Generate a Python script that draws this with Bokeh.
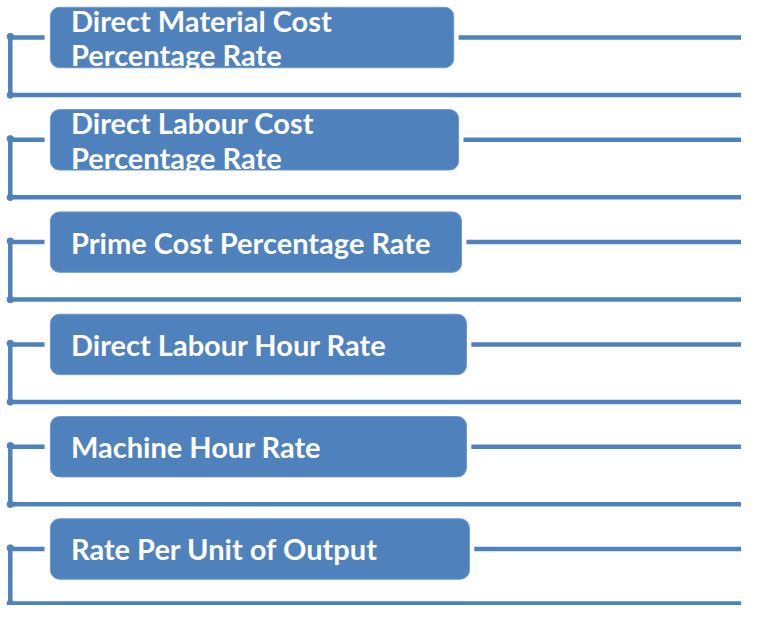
from bokeh.plotting import figure
from bokeh.embed import file_html
from bokeh.resources import INLINE
from bokeh.core.properties import value
from bokeh.models import Range1d

# Data
labels = [
    ["Direct Material Cost", "Percentage Rate"],
    ["Direct Labour Cost", "Percentage Rate"],
    ["Prime Cost Percentage Rate"],
    ["Direct Labour Hour Rate"],
    ["Machine Hour Rate"],
    ["Rate Per Unit of Output"],
]
box_right = [463, 468, 471, 476, 476, 479]

BLUE = "#4F81BD"
W, H = 757, 621

p = figure(width=741, height=605, output_backend="svg", toolbar_location=None,
           x_range=Range1d(0, W), y_range=Range1d(H, 0), min_border=0)
p.axis.visible = False
p.grid.visible = False
p.outline_line_color = None
p.background_fill_color = "white"
p.border_fill_color = "white"

row_gap = 105
for i, lines in enumerate(labels):
    top = 7 + i * row_gap
    bottom = top + 62
    mid = (top + bottom) / 2
    base = min(97 + i * row_gap, 619)
    # box
    p.quad(left=[51], right=[box_right[i]], top=[top], bottom=[bottom],
           fill_color=BLUE, line_color="#6E98CC", line_width=1, border_radius=9)
    # bracket
    p.line(x=[45, 10, 10, W], y=[mid, mid, base, base], line_color=BLUE,
           line_width=4.5, line_join="miter")
    p.scatter(x=[10, 10], y=[mid - 1, base], size=6.5, color=BLUE)
    # right line
    p.line(x=[box_right[i] + 5, W], y=[mid, mid], line_color=BLUE, line_width=4.5)
    # text
    n = len(lines)
    spacing = 35.5
    ys = [mid + (k - (n - 1) / 2) * spacing for k in range(n)]
    p.text(x=[72] * n, y=ys, text=lines, text_color="white",
           text_font=value("Lato"), text_font_style="bold", text_font_size="29px",
           text_baseline="middle", text_align="left")

open("out.html", "w").write(file_html(p, INLINE))
